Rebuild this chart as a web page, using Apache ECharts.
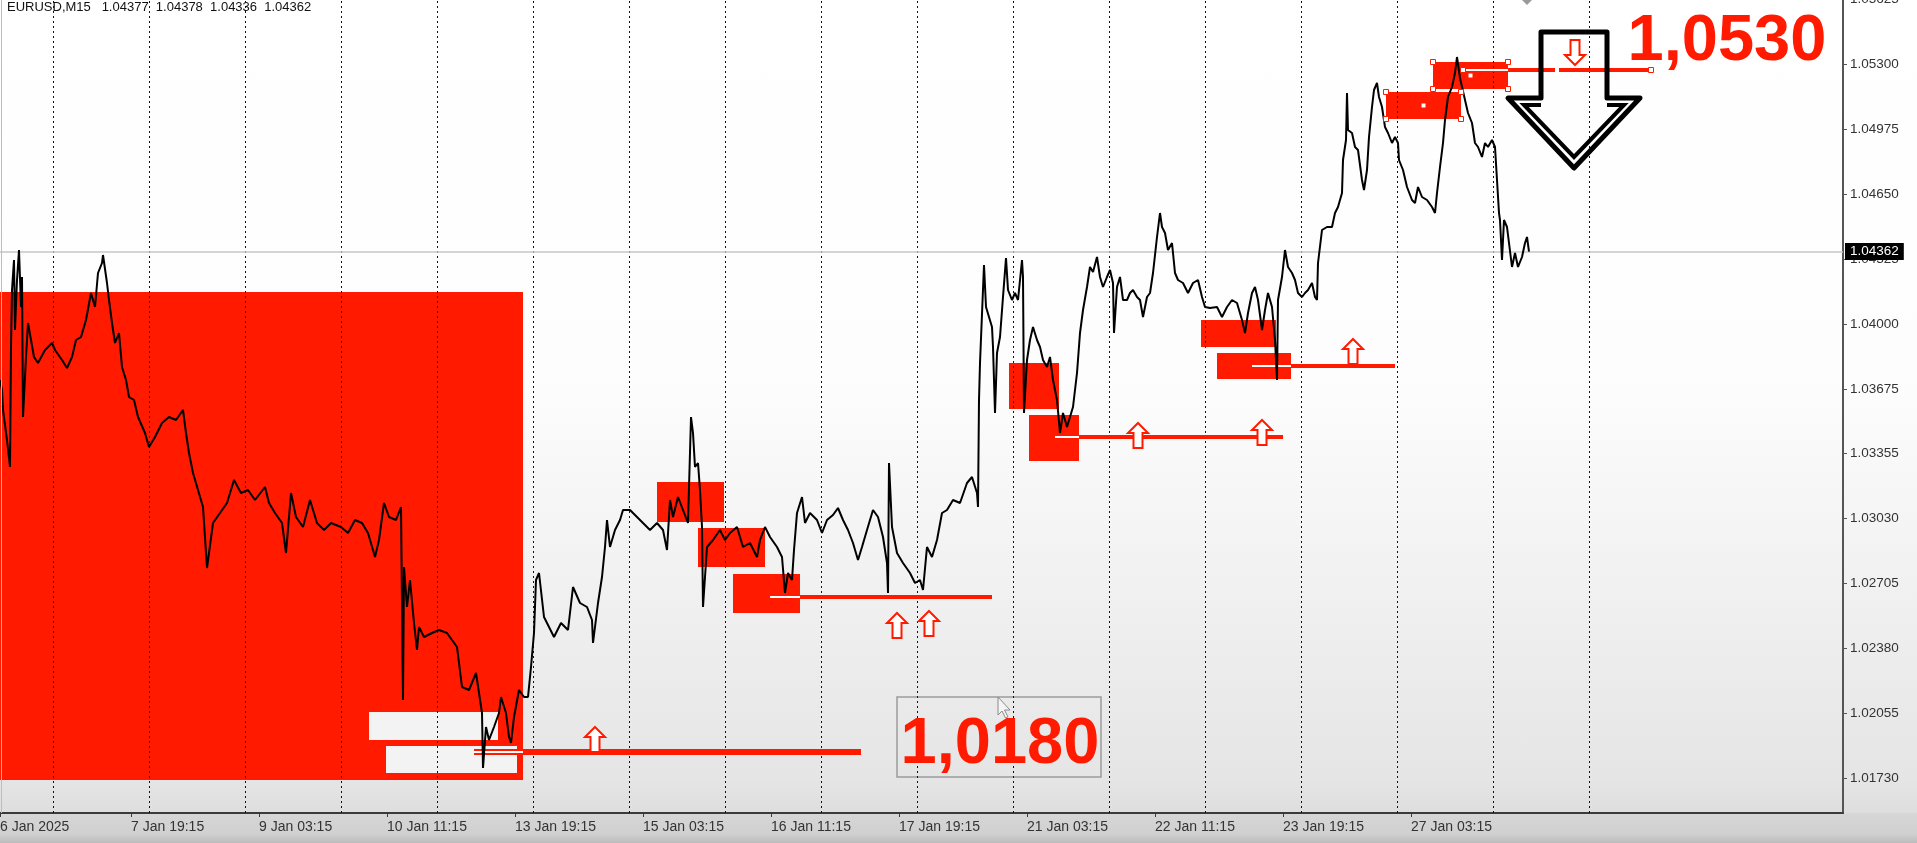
<!DOCTYPE html>
<html><head><meta charset="utf-8">
<script src="https://cdn.jsdelivr.net/npm/echarts@6/dist/echarts.min.js"></script>
<style>
html,body{margin:0;padding:0;width:1917px;height:843px;overflow:hidden;}
body{background:linear-gradient(to bottom,#ffffff 0px,#fdfdfd 380px,#f0f0f0 600px,#e5e5e5 780px,#dedede 812px,#d6d6d6 814px,#d0d0d0 834px,#bcbcbc 843px);}
#c{width:1917px;height:843px;}
</style></head><body><div id="c"></div>
<script>
// ---- data ----
const symbolName = 'EURUSD,M15';
const lastOHLC = ['1.04377','1.04378','1.04336','1.04362'];
const lastClose = 1.04362;

const barIndex = [0,2,3,7,10,11,12,14,15,17,19,21,22,23,26,28,31,34,38,45,52,55,62,67,72,76,81,86,91,95,98,102,103,107,109,112,115,119,122,126,129,134,138,145,149,155,162,169,176,183,186,189,193,198,203,207,213,220,227,234,241,248,255,265,269,275,282,286,291,296,303,310,317,324,331,341,348,355,362,368,375,379,384,389,396,401,403,404,407,410,414,417,419,424,432,439,447,452,457,462,469,476,482,483,486,489,494,499,501,506,509,511,514,519,524,528,531,534,536,539,544,549,554,561,568,573,580,587,592,593,598,602,605,607,610,615,620,623,630,637,643,650,657,663,667,670,673,678,683,688,691,693,695,698,700,702,703,707,713,720,725,730,737,743,750,757,760,765,770,777,782,785,788,792,794,797,802,805,810,817,822,827,833,838,843,848,853,858,862,867,873,878,883,887,888,889,892,897,903,910,915,920,923,927,932,937,942,947,953,960,967,972,977,978,979,980,984,986,989,992,993,995,997,1000,1003,1006,1008,1012,1015,1018,1022,1023,1024,1027,1030,1033,1037,1040,1043,1047,1050,1053,1057,1060,1063,1067,1070,1073,1077,1080,1083,1087,1090,1093,1097,1100,1103,1107,1110,1113,1114,1117,1120,1123,1127,1130,1133,1137,1140,1143,1147,1150,1153,1157,1160,1162,1165,1168,1172,1175,1178,1183,1188,1193,1198,1202,1205,1210,1217,1222,1227,1232,1237,1242,1245,1248,1252,1255,1258,1262,1265,1268,1272,1275,1277,1278,1282,1285,1288,1292,1295,1298,1302,1305,1308,1312,1315,1317,1318,1322,1327,1332,1335,1338,1342,1343,1346,1347,1348,1352,1355,1358,1362,1364,1367,1369,1372,1374,1377,1379,1382,1385,1388,1392,1395,1398,1399,1403,1407,1412,1415,1418,1422,1427,1432,1435,1437,1440,1443,1445,1448,1452,1455,1457,1460,1465,1468,1472,1475,1478,1482,1485,1488,1492,1495,1497,1499,1500,1502,1504,1507,1509,1512,1515,1518,1522,1525,1527,1529];

const closePrice = [1.0372,1.0367,1.0357,1.0342,1.03285,1.03885,1.0417,1.0432,1.0397,1.0422,1.0437,1.04085,1.04235,1.03535,1.03835,1.04005,1.0392,1.03835,1.03805,1.0387,1.03905,1.0387,1.0382,1.0378,1.03835,1.0392,1.03935,1.0402,1.04155,1.04085,1.04255,1.04305,1.04345,1.04205,1.0412,1.04005,1.03905,1.03955,1.03785,1.0372,1.03635,1.0362,1.03535,1.03455,1.03385,1.03435,1.03505,1.03535,1.0352,1.0357,1.03455,1.03355,1.03255,1.0317,1.03085,1.0278,1.03005,1.03055,1.03105,1.0322,1.03155,1.0317,1.0312,1.03185,1.03105,1.03055,1.03005,1.02855,1.03155,1.03035,1.02985,1.0312,1.03005,1.0297,1.03005,1.02985,1.02955,1.0302,1.03005,1.02955,1.02835,1.0292,1.03105,1.03035,1.0302,1.03085,1.0212,1.02785,1.02585,1.0272,1.02505,1.0237,1.02485,1.02435,1.02455,1.0247,1.02455,1.0242,1.02385,1.02185,1.0217,1.02255,1.02055,1.0178,1.01985,1.0192,1.01985,1.02055,1.02135,1.02055,1.01935,1.01905,1.02035,1.0217,1.02135,1.02135,1.02285,1.02455,1.0272,1.02755,1.02535,1.02485,1.02435,1.02505,1.0247,1.02685,1.02605,1.02585,1.0252,1.02405,1.02605,1.02735,1.02885,1.0302,1.02885,1.0297,1.0302,1.0307,1.0307,1.03035,1.03005,1.0297,1.03005,1.0297,1.0287,1.0312,1.03035,1.03135,1.0307,1.03005,1.03535,1.03455,1.03285,1.03305,1.0317,1.02985,1.02585,1.02885,1.0292,1.0297,1.0292,1.02955,1.02985,1.02885,1.02905,1.02835,1.0292,1.02985,1.02935,1.02885,1.02835,1.02655,1.02755,1.0272,1.0287,1.03055,1.03135,1.03005,1.03055,1.0302,1.02955,1.0302,1.03045,1.0308,1.0302,1.0297,1.02905,1.0282,1.02885,1.0297,1.0307,1.03035,1.02935,1.02805,1.02655,1.03305,1.02985,1.02855,1.02805,1.02755,1.02705,1.0272,1.0267,1.02885,1.02835,1.0292,1.03055,1.0307,1.0312,1.03105,1.03205,1.03235,1.03155,1.03085,1.0362,1.03805,1.04295,1.04085,1.04035,1.03985,1.03885,1.03555,1.03855,1.03935,1.04135,1.0433,1.0417,1.0412,1.04155,1.0412,1.0432,1.04235,1.03555,1.0382,1.0392,1.03985,1.0392,1.03885,1.0382,1.03785,1.03835,1.0372,1.0362,1.03455,1.03555,1.03485,1.03535,1.03585,1.03755,1.03955,1.0407,1.04185,1.04285,1.0426,1.04335,1.04235,1.04185,1.04235,1.0427,1.04205,1.03955,1.04185,1.04235,1.0412,1.0412,1.04155,1.0417,1.04135,1.0412,1.04035,1.04135,1.04155,1.04255,1.04435,1.04555,1.04485,1.04455,1.0437,1.04405,1.04255,1.0422,1.04205,1.04155,1.04205,1.0422,1.04135,1.04085,1.0408,1.04085,1.04035,1.04085,1.0412,1.04105,1.0402,1.03955,1.04055,1.04155,1.04185,1.0412,1.0397,1.0407,1.04155,1.04085,1.0392,1.0372,1.0412,1.04235,1.0437,1.04285,1.04255,1.0422,1.04155,1.04135,1.04155,1.0417,1.04205,1.04135,1.0412,1.04305,1.0447,1.04485,1.04485,1.04555,1.04585,1.04655,1.0482,1.0492,1.05155,1.0497,1.04955,1.04885,1.0487,1.0472,1.0467,1.0477,1.04935,1.05085,1.0517,1.05205,1.05135,1.05085,1.04985,1.04955,1.04905,1.04935,1.04905,1.0482,1.0477,1.04685,1.0462,1.04605,1.04685,1.04635,1.0462,1.04585,1.04555,1.04655,1.04785,1.04905,1.0502,1.05135,1.05185,1.05255,1.05335,1.0523,1.0512,1.05055,1.05005,1.04905,1.04885,1.04835,1.04905,1.04885,1.0492,1.04885,1.0472,1.04555,1.0452,1.0432,1.0452,1.04485,1.04405,1.04285,1.04355,1.04285,1.04335,1.04405,1.04435,1.04362];

const xTickBars = [0,131,259,387,515,643,771,899,1027,1155,1283,1411];
const xTickLabels = ['6 Jan 2025','7 Jan 19:15','9 Jan 03:15','10 Jan 11:15','13 Jan 19:15','15 Jan 03:15','16 Jan 11:15','17 Jan 19:15','21 Jan 03:15','22 Jan 11:15','23 Jan 19:15','27 Jan 03:15'];
const daySeparators = [53,149,245,341,437,533,629,725,821,917,1013,1109,1205,1301,1397,1493,1589];
const yTickValues = [1.0173,1.02055,1.0238,1.02705,1.0303,1.03355,1.03675,1.04,1.04325,1.0465,1.04975,1.053,1.05625];

// zones: [fromBar, toBar, topPrice, bottomPrice]
const redZones = [[0,523,1.0416,1.0172],[657,724,1.0321,1.0301],[698,765,1.0298,1.02785],[733,800,1.0275,1.02555],[1009,1059,1.03805,1.03575],[1029,1079,1.03545,1.03315],[1201,1276,1.0402,1.03885],[1217,1291,1.03855,1.03725],[1386,1461,1.0516,1.05025],[1433,1508,1.0531,1.05175]];
const whiteZones = [[369,498,1.0206,1.0192],[386,517,1.0189,1.01755]];
const noteBoxes = [[897,1101,1.02135,1.01735]];
// level lines: [fromBar, toBar, price]
const levelLines = [[474,861,1.0186],[770,992,1.02635],[1055,1283,1.03435],[1252,1395,1.0379],[1463,1651,1.0527]];
const levelInsideZone = [[474,523,1.0186],[770,800,1.02635],[1055,1079,1.03435],[1252,1291,1.0379],[1463,1508,1.0527]];
const upArrows = [[595,1.01985],[897,1.02555],[929,1.02565],[1138,1.03505],[1262,1.0352],[1353,1.03925]];
const downArrows = [[1575,1.05295]];
const bigDownArrow = [[1574,1.0478]];
const noteTexts = ['1,0530','1,0180'];
const noteBars = [1727,1000];
const notePrices = [1.05408,1.01895];
const selectedZones = [8,9];
const selectedLines = [4];
const cursorAt = [[998,1.02135]];

// ---- chart ----
const RED = '#ff1a00';
const X_MAX = 1843;
const chart = echarts.init(document.getElementById('c'));
const pricePts = barIndex.map((b,i)=>[b, closePrice[i]]);
const area = z => [{coord:[z[0], z[2]]},{coord:[z[1], z[3]]}];
const seg = l => [{coord:[l[0], l[2]]},{coord:[l[1], l[2]]}];

const handlePts = [];
selectedZones.forEach(i=>{const z=redZones[i];
  handlePts.push([z[0],z[2]],[z[1],z[2]],[z[0],z[3]],[z[1],z[3]]);});
selectedLines.forEach(i=>{const l=levelLines[i];
  handlePts.push([l[0],l[2]],[l[1],l[2]]);});
const handleDots = [];
selectedZones.forEach(i=>{const z=redZones[i];handleDots.push([(z[0]+z[1])/2,(z[2]+z[3])/2]);});
selectedLines.forEach(i=>{const l=levelLines[i];handleDots.push([(l[0]+l[1])/2,l[2]]);});

function hollowArrow(p, dir){
  const pts=[[0,0],[10,10],[4.5,10],[4.5,25],[-4.5,25],[-4.5,10],[-10,10]];
  return {type:'polygon', shape:{points:pts.map(([a,b])=>[p[0]+a,p[1]+dir*b])},
    style:{fill:'#ffffff', stroke:RED, lineWidth:2}};
}

const option = {
  animation:false,
  backgroundColor:'transparent',
  grid:{left:0,right:74,top:-1,bottom:30,containLabel:false,outerBoundsMode:'none'},
  xAxis:{type:'value',min:0,max:X_MAX,
    axisLine:{show:true,onZero:false,lineStyle:{color:'#3a3a3a',width:2}},
    axisTick:{show:true,customValues:xTickBars,length:4,lineStyle:{color:'#3a3a3a'}},
    axisLabel:{customValues:xTickBars,align:'left',margin:7,color:'#333',fontSize:14,
      fontFamily:'Liberation Sans',
      formatter:v=>{const i=xTickBars.indexOf(Math.round(v));return i>=0?xTickLabels[i]:'';}},
    splitLine:{show:false}},
  yAxis:{type:'value',position:'right',min:1.01555,max:1.05625,scale:true,
    axisLine:{show:true,onZero:false,lineStyle:{color:'#555',width:2}},
    axisTick:{show:true,customValues:yTickValues,length:4,lineStyle:{color:'#555'}},
    axisLabel:{customValues:yTickValues,margin:7,color:'#333',fontSize:13.5,fontFamily:'Liberation Sans',
      formatter:v=>v.toFixed(5)},
    splitLine:{show:false}},
  graphic:[
    {type:'text',left:7,top:1,z:50,style:{text:symbolName+'   '+lastOHLC.join('  '),fill:'#111',font:'13px "Liberation Sans"'}},
    {type:'line',z:50,shape:{x1:1.5,y1:0,x2:1.5,y2:813},style:{stroke:'#bdbdbd',lineWidth:1}},
    {type:'polygon',z:50,shape:{points:[[1522,0],[1532,0],[1527,5]]},style:{fill:'#9a9a9a'}}
  ],
  series:[
    {name:'zones',type:'line',data:[],z:1,
      markArea:{silent:true,z:1,itemStyle:{color:RED},data:redZones.map(area)}},
    {name:'whiteZones',type:'line',data:[],z:2,
      markArea:{silent:true,z:2,itemStyle:{color:'#f3f3f3'},data:whiteZones.map(area)}},
    {name:'noteBox',type:'line',data:[],z:2,
      markArea:{silent:true,z:2,itemStyle:{color:'rgba(0,0,0,0)',borderColor:'#9c9c9c',borderWidth:1.5},data:noteBoxes.map(area)}},
    {name:'separators',type:'line',data:[],z:3,
      markLine:{silent:true,z:3,symbol:'none',label:{show:false},
        lineStyle:{color:'#111',type:[2,3],width:1},
        data:daySeparators.map(v=>({xAxis:v}))}},
    {name:'levels',type:'line',data:[],z:4,
      markLine:{silent:true,z:4,symbol:'none',label:{show:false},
        lineStyle:{color:RED,type:'solid',width:4},
        data:levelLines.map((l,i)=>{const s=seg(l); if(i===0){s[0].lineStyle={width:6};} return s;})}},
    {name:'levelCore',type:'line',data:[],z:5,
      markLine:{silent:true,z:5,symbol:'none',label:{show:false},
        lineStyle:{color:'#ffffff',type:'solid',width:2},
        data:levelInsideZone.map(seg)}},
    {name:'current',type:'line',data:[],z:4,
      markLine:{silent:true,z:4,symbol:'none',
        lineStyle:{color:'#c6c6c6',type:'solid',width:1.5},
        label:{show:true,position:'end',distance:2,formatter:lastClose.toFixed(5),
          backgroundColor:'#000',color:'#fff',padding:[2,5,1,5],fontSize:13.5,fontFamily:'Liberation Sans'},
        data:[[{coord:[0,lastClose]},{coord:[X_MAX,lastClose]}]]}},
    {name:'EURUSD',type:'line',data:pricePts,z:10,showSymbol:false,symbol:'none',
      lineStyle:{color:'#000',width:2},silent:true},
    {name:'upArrows',type:'custom',z:12,data:upArrows,silent:true,
      renderItem:(p,api)=>hollowArrow(api.coord([api.value(0),api.value(1)]),1)},
    {name:'downArrows',type:'custom',z:12,data:downArrows,silent:true,
      renderItem:(p,api)=>hollowArrow(api.coord([api.value(0),api.value(1)]),-1)},
    {name:'bigArrow',type:'custom',z:12,data:bigDownArrow,silent:true,
      renderItem:(p,api)=>{
        const c=api.coord([api.value(0),api.value(1)]);
        const m=a=>a.map(([x,y])=>[c[0]+x,c[1]+y]);
        return {type:'group',children:[
          {type:'polygon',shape:{points:m([[-33,-136],[33,-136],[33,-70],[66,-70],[0,0],[-66,-70],[-33,-70]])},
            style:{fill:null,stroke:'#000',lineWidth:5,lineJoin:'round'}},
          {type:'polyline',shape:{points:m([[-33,-63],[-50,-63],[0,-11],[50,-63],[33,-63]])},
            style:{fill:null,stroke:'#000',lineWidth:4,lineJoin:'miter'}}
        ]};
      }},
    {name:'notes',type:'custom',z:12,silent:true,
      data:noteTexts.map((t,i)=>[noteBars[i],notePrices[i]]),
      renderItem:(p,api)=>{
        const c=api.coord([api.value(0),api.value(1)]);
        return {type:'text',x:c[0],y:c[1],style:{text:noteTexts[p.dataIndex],fill:RED,
          font:'bold 65px "Liberation Sans"',align:'center',verticalAlign:'middle',
          textAlign:'center',textVerticalAlign:'middle'}};
      }},
    {name:'handles',type:'custom',z:13,silent:true,data:handlePts,
      renderItem:(p,api)=>{const c=api.coord([api.value(0),api.value(1)]);
        return {type:'rect',shape:{x:c[0]-2.5,y:c[1]-2.5,width:5,height:5},style:{fill:'#fff',stroke:RED,lineWidth:1}};}},
    {name:'handleDots',type:'custom',z:13,silent:true,data:handleDots,
      renderItem:(p,api)=>{const c=api.coord([api.value(0),api.value(1)]);
        return {type:'rect',shape:{x:c[0]-2,y:c[1]-2,width:4,height:4},style:{fill:'#fff'}};}},
    {name:'cursor',type:'custom',z:14,silent:true,data:cursorAt,
      renderItem:(p,api)=>{const c=api.coord([api.value(0),api.value(1)]);
        const pts=[[0,0],[0,18],[4,14],[7.5,21],[10,20],[6.5,13],[12,13]].map(([x,y])=>[c[0]+x,c[1]+y]);
        return {type:'polygon',shape:{points:pts},style:{fill:'#f4f4f4',stroke:'#8a8a8a',lineWidth:1}};}}
  ]
};
chart.setOption(option);
</script>
</body></html>
